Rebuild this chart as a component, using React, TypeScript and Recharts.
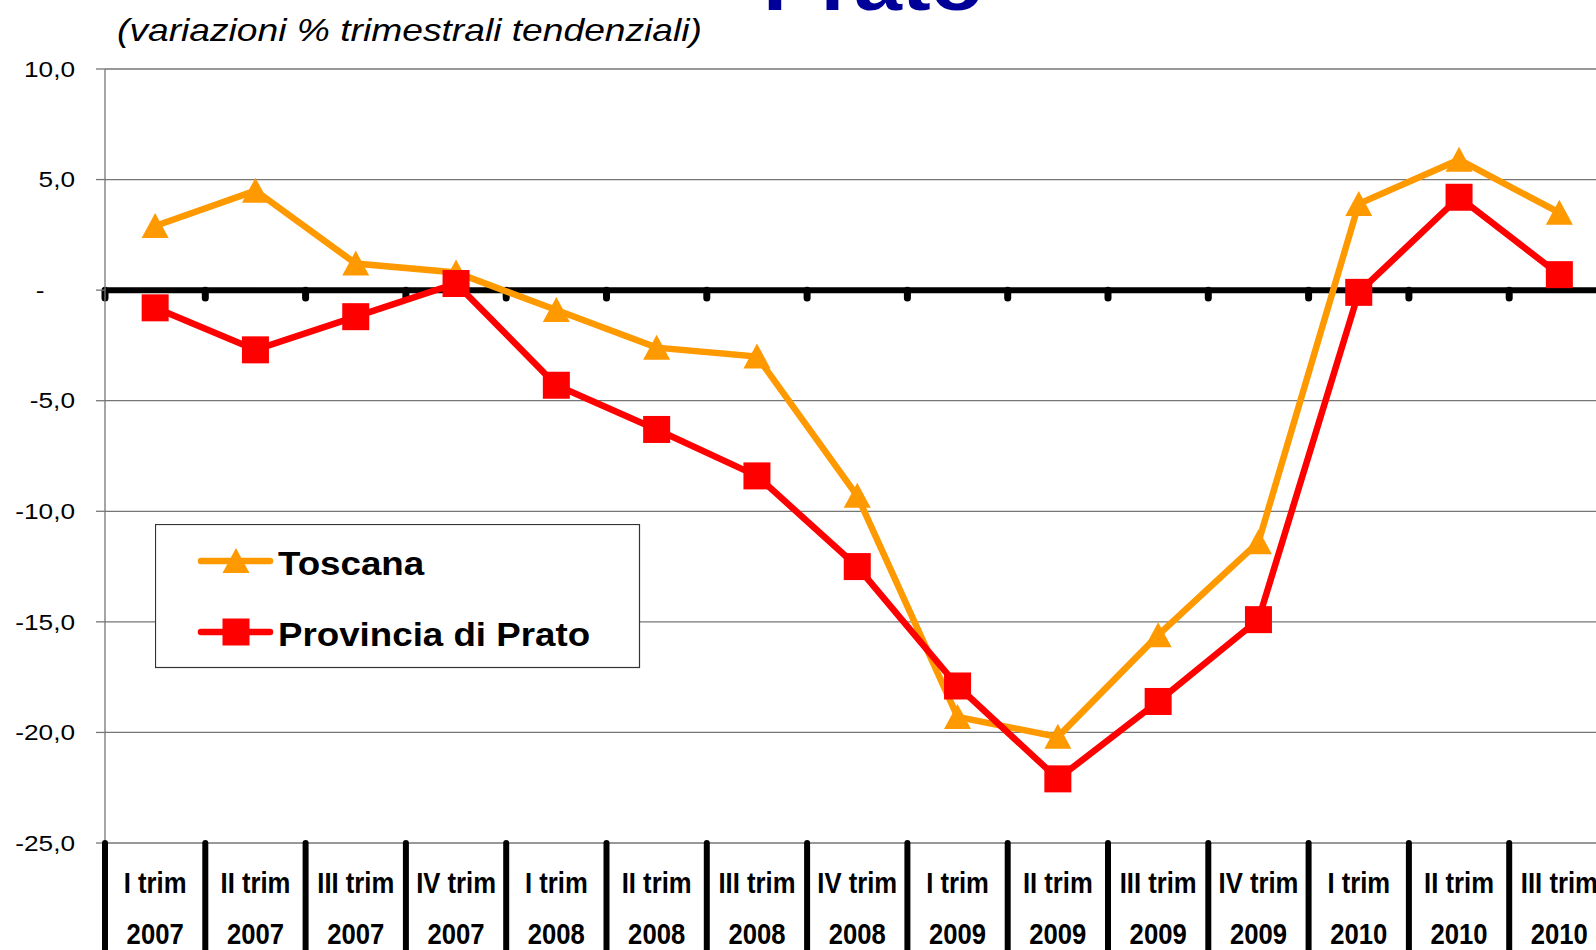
import React from "react";
import { LineChart, Line, XAxis, YAxis, CartesianGrid, ReferenceLine, Legend } from "recharts";

const quarters = ["I trim", "II trim", "III trim", "IV trim", "I trim", "II trim", "III trim", "IV trim", "I trim", "II trim", "III trim", "IV trim", "I trim", "II trim", "III trim"];
const years = ["2007", "2007", "2007", "2007", "2008", "2008", "2008", "2008", "2009", "2009", "2009", "2009", "2010", "2010", "2010"];
const toscana = [2.9, 4.5, 1.2, 0.8, -0.9, -2.6, -3.0, -9.3, -19.3, -20.2, -15.6, -11.4, 3.9, 5.9, 3.5];
const prato = [-0.8, -2.7, -1.2, 0.3, -4.3, -6.3, -8.4, -12.5, -17.9, -22.1, -18.6, -14.9, -0.1, 4.2, 0.7];
const yTicks = [10, 5, 0, -5, -10, -15, -20, -25];
const seriesNames = { toscana: "Toscana", prato: "Provincia di Prato" };
const title = "Prato";
const subtitle = "(variazioni % trimestrali tendenziali)";

const ORANGE = "#FF9900";
const RED = "#FF0000";
const GRID = "#767676";
const LINE_W = 6.5;

const CHART_W = 1620;
const CHART_H = 950;
const MARGIN = { top: 69, right: 10.5, left: 0, bottom: 0 };
const YAXIS_W = 105;
const XAXIS_H = 107;
const PLOT_W = CHART_W - MARGIN.right - MARGIN.left - YAXIS_W;
const CAT_W = PLOT_W / quarters.length;

const data = quarters.map((q, i) => ({
  x: i + 0.5,
  quarter: q,
  year: years[i],
  toscana: toscana[i],
  prato: prato[i],
}));
const centers = data.map((d) => d.x);
const boundaries = quarters.map((_, i) => i);

const Triangle = (props: any) => {
  const { cx, cy } = props;
  if (cx == null || cy == null) return null;
  return <path d={`M${cx},${cy - 13} L${cx + 13.5},${cy + 12} L${cx - 13.5},${cy + 12} Z`} fill={ORANGE} />;
};
const Square = (props: any) => {
  const { cx, cy } = props;
  if (cx == null || cy == null) return null;
  return <rect x={cx - 13.5} y={cy - 13.5} width={27} height={27} fill={RED} />;
};

const XTick = (props: any) => {
  const { x, y, payload } = props;
  const i = Math.round(payload.value - 0.5);
  const bx = x - CAT_W / 2;
  return (
    <g>
      <line x1={bx} x2={bx} y1={y} y2={y + 130} stroke="#000" strokeWidth={6} strokeLinecap="round" />
      <g transform={`translate(${x},${y}) scale(0.885,1)`}>
        <text x={0} y={50} textAnchor="middle" fontFamily="'Liberation Sans', Arial, sans-serif" fontWeight="bold" fontSize={29} fill="#000">
          {quarters[i]}
        </text>
        <text x={0} y={101} textAnchor="middle" fontFamily="'Liberation Sans', Arial, sans-serif" fontWeight="bold" fontSize={29} fill="#000">
          {years[i]}
        </text>
      </g>
    </g>
  );
};

const YTick = (props: any) => {
  const { x, y, payload } = props;
  const v = payload.value;
  const label = v === 0 ? "-" : v.toFixed(1).replace(".", ",");
  return (
    <g transform={`translate(${x},${y}) scale(1.22,1)`}>
      <text x={v === 0 ? -25 : 0} y={0} dy="0.36em" textAnchor="end" fontFamily="'Liberation Sans', Arial, sans-serif" fontSize={21.5} fill="#000">
        {label}
      </text>
    </g>
  );
};

const LegendContent = (props: any) => {
  const payload = props.payload || [];
  const rows = [
    { key: "toscana", y: 37, base: 51 },
    { key: "prato", y: 108, base: 122 },
  ];
  return (
    <svg width={486} height={145} style={{ display: "block" }}>
      <rect x={0.5} y={0.5} width={484} height={143} fill="#fff" stroke="#333" strokeWidth={1.2} />
      {rows.map((r) => {
        const entry = payload.find((p: any) => p.dataKey === r.key);
        const color = entry ? entry.color : r.key === "toscana" ? ORANGE : RED;
        const name = entry ? entry.value : (seriesNames as any)[r.key];
        return (
          <g key={r.key}>
            <line x1={46} x2={115} y1={r.y} y2={r.y} stroke={color} strokeWidth={LINE_W} strokeLinecap="round" />
            {r.key === "toscana" ? <Triangle cx={81} cy={r.y} /> : <Square cx={81} cy={r.y} />}
            <g transform={`translate(123,${r.base}) scale(1.13,1)`}>
              <text x={0} y={0} fontFamily="'Liberation Sans', Arial, sans-serif" fontWeight="bold" fontSize={32.5} fill="#000">
                {name}
              </text>
            </g>
          </g>
        );
      })}
    </svg>
  );
};

export default function App() {
  return (
    <div style={{ position: "fixed", left: 0, top: 0, width: 1596, height: 950, overflow: "hidden", background: "#fff" }}>
      <LineChart width={CHART_W} height={CHART_H} data={data} margin={MARGIN}>
        <CartesianGrid horizontal vertical={false} stroke={GRID} strokeWidth={1.3} />
        <XAxis
          dataKey="x"
          type="number"
          domain={[0, quarters.length]}
          ticks={centers}
          interval={0}
          height={XAXIS_H}
          axisLine={false}
          tickLine={false}
          tickSize={0}
          tickMargin={0}
          tick={<XTick />}
        />
        <YAxis
          type="number"
          domain={[-25, 10]}
          ticks={yTicks}
          interval={0}
          width={YAXIS_W}
          axisLine={{ stroke: GRID, strokeWidth: 1.3 }}
          tickLine={{ stroke: GRID, strokeWidth: 1.3 }}
          tickSize={9}
          tickMargin={21}
          tick={<YTick />}
        />
        <ReferenceLine y={0} stroke="#000" strokeWidth={6} strokeLinecap="round" />
        {boundaries.map((b) => (
          <ReferenceLine
            key={b}
            segment={[
              { x: b, y: 0 },
              { x: b, y: -0.35 },
            ]}
            stroke="#000"
            strokeWidth={7}
            strokeLinecap="round"
          />
        ))}
        <Legend
          layout="vertical"
          align="center"
          verticalAlign="middle"
          wrapperStyle={{ left: 155, top: 524, width: 486, height: 145 }}
          content={<LegendContent />}
        />
        <Line
          type="linear"
          dataKey="toscana"
          name={seriesNames.toscana}
          stroke={ORANGE}
          strokeWidth={LINE_W}
          dot={<Triangle />}
          activeDot={false}
          isAnimationActive={false}
        />
        <Line
          type="linear"
          dataKey="prato"
          name={seriesNames.prato}
          stroke={RED}
          strokeWidth={LINE_W}
          dot={<Square />}
          activeDot={false}
          isAnimationActive={false}
        />
      </LineChart>
      <svg width={1596} height={950} style={{ position: "absolute", left: 0, top: 0, pointerEvents: "none" }}>
        <g transform="translate(763,10) scale(1.15,1)">
          <text x={0} y={0} fontFamily="'Liberation Sans', Arial, sans-serif" fontWeight="bold" fontSize={75} fill="#000099">
            {title}
          </text>
        </g>
        <g transform="translate(117,41) scale(1.2,1)">
          <text x={0} y={0} fontFamily="'Liberation Sans', Arial, sans-serif" fontStyle="italic" fontSize={31} fill="#000">
            {subtitle}
          </text>
        </g>
      </svg>
    </div>
  );
}
